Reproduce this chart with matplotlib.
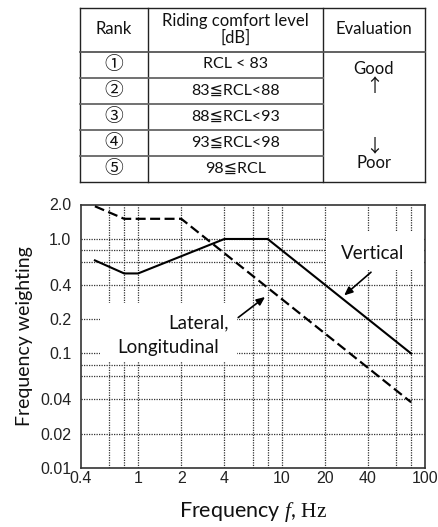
"""Riding comfort table and frequency weighting curves."""

import matplotlib

matplotlib.use("Agg")

import matplotlib.pyplot as plt
from matplotlib.patches import Rectangle

plt.rcParams["mathtext.fontset"] = "custom"
plt.rcParams["mathtext.rm"] = "Liberation Serif"
plt.rcParams["mathtext.it"] = "Liberation Serif:italic"

TEXT_FONT = ["Lato", "DejaVu Sans", "Noto Sans CJK JP"]
TICK_FONT = ["Liberation Sans", "DejaVu Sans"]
CIRCLE_FONT = ["Noto Sans CJK JP", "DejaVu Sans"]

# Table content
ranks = ["①", "②", "③", "④", "⑤"]
comfort_levels = [
    "RCL < 83",
    "83≦RCL<88",
    "88≦RCL<93",
    "93≦RCL<98",
    "98≦RCL",
]
header = ["Rank", "Riding comfort level\n[dB]", "Evaluation"]

# Frequency weighting curves
vertical_freq = [0.5, 0.8, 1.0, 4.0, 8.0, 80.0]
vertical_weight = [0.65, 0.5, 0.5, 1.0, 1.0, 0.1]

lateral_freq = [0.5, 0.8, 2.0, 80.0]
lateral_weight = [1.93, 1.5, 1.5, 0.0375]

x_ticks = [0.4, 1, 2, 4, 10, 20, 40, 100]
x_tick_labels = ["0.4", "1", "2", "4", "10", "20", "40", "100"]
y_ticks = [0.01, 0.02, 0.04, 0.1, 0.2, 0.4, 1.0, 2.0]
y_tick_labels = ["0.01", "0.02", "0.04", "0.1", "0.2", "0.4", "1.0", "2.0"]

x_grid = [0.63, 0.8, 1, 2, 4, 6.3, 8, 10, 20, 40, 63, 80]
y_grid = [0.02, 0.04, 0.063, 0.08, 0.1, 0.2, 0.4, 0.63, 0.8, 1.0]

W, H = 439, 527
figure = plt.figure(figsize=(W / 100, H / 100), dpi=100)

# ---------------- table (pixel coordinates) ----------------
table_axis = figure.add_axes([0, 0, 1, 1])
table_axis.set_xlim(0, W)
table_axis.set_ylim(H, 0)
table_axis.axis("off")

col_edges = [80, 148, 323, 425]
row_edges = [7.5, 51.5, 77.5, 103.5, 129.5, 155.5, 181.5]
line_kw = dict(color="#222222", linewidth=1.0)

# outer box and column separators
for x in col_edges:
    table_axis.plot([x, x], [row_edges[0], row_edges[-1]], **line_kw)
table_axis.plot([col_edges[0], col_edges[-1]], [row_edges[0]] * 2, **line_kw)
table_axis.plot([col_edges[0], col_edges[-1]], [row_edges[-1]] * 2, **line_kw)
table_axis.plot(
    [col_edges[0], col_edges[-1]], [row_edges[1]] * 2,
    color="#555555", linewidth=1.3,
)
for y in row_edges[2:-1]:
    table_axis.plot(
        [col_edges[0], col_edges[2]], [y, y],
        color="#666666", linewidth=1.3,
    )

col_centers = [
    (col_edges[i] + col_edges[i + 1]) / 2 for i in range(3)
]
header_y = (row_edges[0] + row_edges[1]) / 2
for center, label in zip(col_centers, header):
    table_axis.text(
        center, header_y, label,
        ha="center", va="center", fontsize=12,
        family=TEXT_FONT, linespacing=1.0, color="#111111",
    )

for index, (rank, level) in enumerate(zip(ranks, comfort_levels)):
    row_y = (row_edges[index + 1] + row_edges[index + 2]) / 2
    table_axis.text(
        col_centers[0], row_y, rank,
        ha="center", va="center", fontsize=13.5,
        family=CIRCLE_FONT, color="#111111",
    )
    table_axis.text(
        col_centers[1], row_y, level,
        ha="center", va="center", fontsize=11.5,
        family=TEXT_FONT, color="#111111",
    )

eval_x = col_centers[2]
table_axis.text(eval_x, 69, "Good", ha="center", va="center",
                fontsize=12, family=TEXT_FONT, color="#111111")
table_axis.text(eval_x, 87, "↑", ha="center", va="center",
                fontsize=13, family=CIRCLE_FONT, color="#111111")
table_axis.text(eval_x, 146, "↓", ha="center", va="center",
                fontsize=13, family=CIRCLE_FONT, color="#111111")
table_axis.text(eval_x, 163, "Poor", ha="center", va="center",
                fontsize=12, family=TEXT_FONT, color="#111111")

# ---------------- weighting chart ----------------
left, right = 81 / W, 425 / W
bottom, top = 1 - 468 / H, 1 - 204.5 / H
axis = figure.add_axes([left, bottom, right - left, top - bottom])

axis.set_xscale("log")
axis.set_yscale("log")
axis.set_xlim(0.4, 100)
axis.set_ylim(0.01, 2.0)

axis.set_xticks(x_ticks, labels=x_tick_labels)
axis.set_yticks(y_ticks, labels=y_tick_labels)
axis.set_xticks(x_grid, minor=True)
axis.set_yticks(y_grid, minor=True)
axis.xaxis.set_minor_formatter(plt.NullFormatter())
axis.yaxis.set_minor_formatter(plt.NullFormatter())
axis.xaxis.remove_overlapping_locs = False
axis.yaxis.remove_overlapping_locs = False
axis.tick_params(which="both", length=0)
axis.tick_params(axis="x", pad=2)
axis.tick_params(axis="y", pad=7)
for label in axis.get_xticklabels() + axis.get_yticklabels():
    label.set_family(TICK_FONT)
    label.set_fontsize(11.5)
    label.set_color("#222222")

axis.grid(
    True, which="minor", color="#333333",
    linestyle=(0, (1, 1)), linewidth=0.9,
)
axis.set_axisbelow(True)
for spine in axis.spines.values():
    spine.set_color("#333333")
    spine.set_linewidth(1.2)

# white boxes masking the grid behind the labels
axis.add_patch(Rectangle(
    (0.712, 0.75), 0.283, 0.145, transform=axis.transAxes,
    facecolor="white", edgecolor="none", zorder=1.5,
))
axis.add_patch(Rectangle(
    (0.055, 0.405), 0.398, 0.22, transform=axis.transAxes,
    facecolor="white", edgecolor="none", zorder=1.5,
))

axis.plot(
    vertical_freq, vertical_weight,
    color="black", linewidth=1.5, zorder=3,
)
axis.plot(
    lateral_freq, lateral_weight,
    color="black", linewidth=1.6,
    linestyle=(0, (4.5, 2)), zorder=3,
)

axis.text(
    0.849, 0.814, "Vertical", transform=axis.transAxes,
    ha="center", va="center", fontsize=13.5,
    family=TEXT_FONT, color="#111111", zorder=4,
)
axis.text(
    0.342, 0.549, "Lateral,", transform=axis.transAxes,
    ha="center", va="center", fontsize=13.5,
    family=TEXT_FONT, color="#111111", zorder=4,
)
axis.text(
    0.252, 0.458, "Longitudinal", transform=axis.transAxes,
    ha="center", va="center", fontsize=13.5,
    family=TEXT_FONT, color="#111111", zorder=4,
)

arrow_kw = dict(arrowstyle="-|>,head_length=0.5,head_width=0.22",
                color="black", linewidth=1.2, shrinkA=0, shrinkB=0)
axis.annotate(
    "", xy=(0.765, 0.655), xytext=(0.843, 0.743),
    xycoords="axes fraction", textcoords="axes fraction",
    arrowprops=arrow_kw, zorder=4,
)
axis.annotate(
    "", xy=(0.535, 0.649), xytext=(0.457, 0.571),
    xycoords="axes fraction", textcoords="axes fraction",
    arrowprops=arrow_kw, zorder=4,
)

axis.set_ylabel(
    "Frequency weighting", fontsize=14,
    family=TEXT_FONT, color="#111111", labelpad=5,
)
axis.set_xlabel(
    "Frequency $f$, $\\mathrm{Hz}$", fontsize=15.5,
    family=TEXT_FONT, color="#111111", labelpad=10,
)

figure.savefig("out.png", dpi=100)
plt.close(figure)
